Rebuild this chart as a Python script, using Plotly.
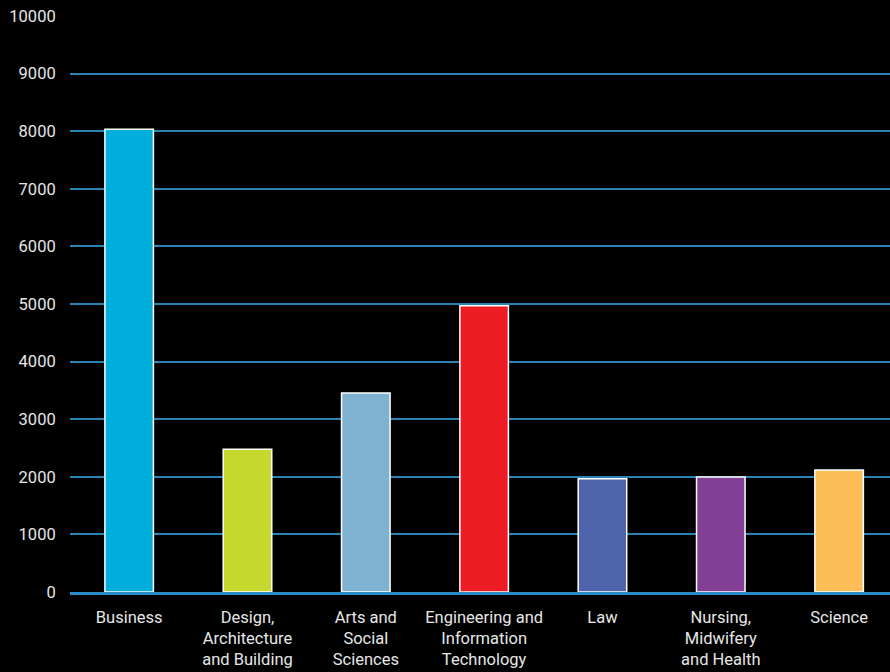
import plotly.graph_objects as go

categories = ["Business", "Design,<br>Architecture<br>and Building", "Arts and<br>Social<br>Sciences",
              "Engineering and<br>Information<br>Technology", "Law", "Nursing,<br>Midwifery<br>and Health", "Science"]
values = [8035, 2480, 3455, 4970, 1965, 1995, 2120]
colors = ["#00aedb", "#c4d82e", "#7fb2d1", "#ed1c24", "#4f64ad", "#833f96", "#fdbe57"]
y_ticks = list(range(0, 10001, 1000))

fig = go.Figure(go.Bar(
    x=list(range(len(categories))), y=values,
    marker=dict(color=colors, line=dict(color="#ffffff", width=1.5)),
    width=0.41,
))

fig.update_layout(
    width=890, height=672,
    paper_bgcolor="#000000", plot_bgcolor="#000000",
    margin=dict(l=70, r=0, t=16, b=80),
    font=dict(family="Roboto, Open Sans, sans-serif", size=16.5, color="#e6e6e6"),
    showlegend=False,
)
fig.update_xaxes(
    tickmode="array", tickvals=list(range(len(categories))), ticktext=categories,
    range=[-0.5, 6.43], showgrid=False, zeroline=False,
    showline=True, linecolor="#2a8cc4", linewidth=2.5,
    ticks="outside", ticklen=8, tickcolor="rgba(0,0,0,0)", tickangle=0,
)
fig.update_yaxes(
    range=[0, 10000], tickvals=y_ticks, ticktext=[str(v) for v in y_ticks],
    showgrid=True, gridcolor="#2a83b3", gridwidth=1.5,
    zeroline=False, ticks="outside", ticklen=10, tickcolor="rgba(0,0,0,0)",
    showline=False,
)

fig.write_html("out.html", config={"displayModeBar": False},
               post_script="document.body.style.margin='0';document.body.style.background='#000';")
